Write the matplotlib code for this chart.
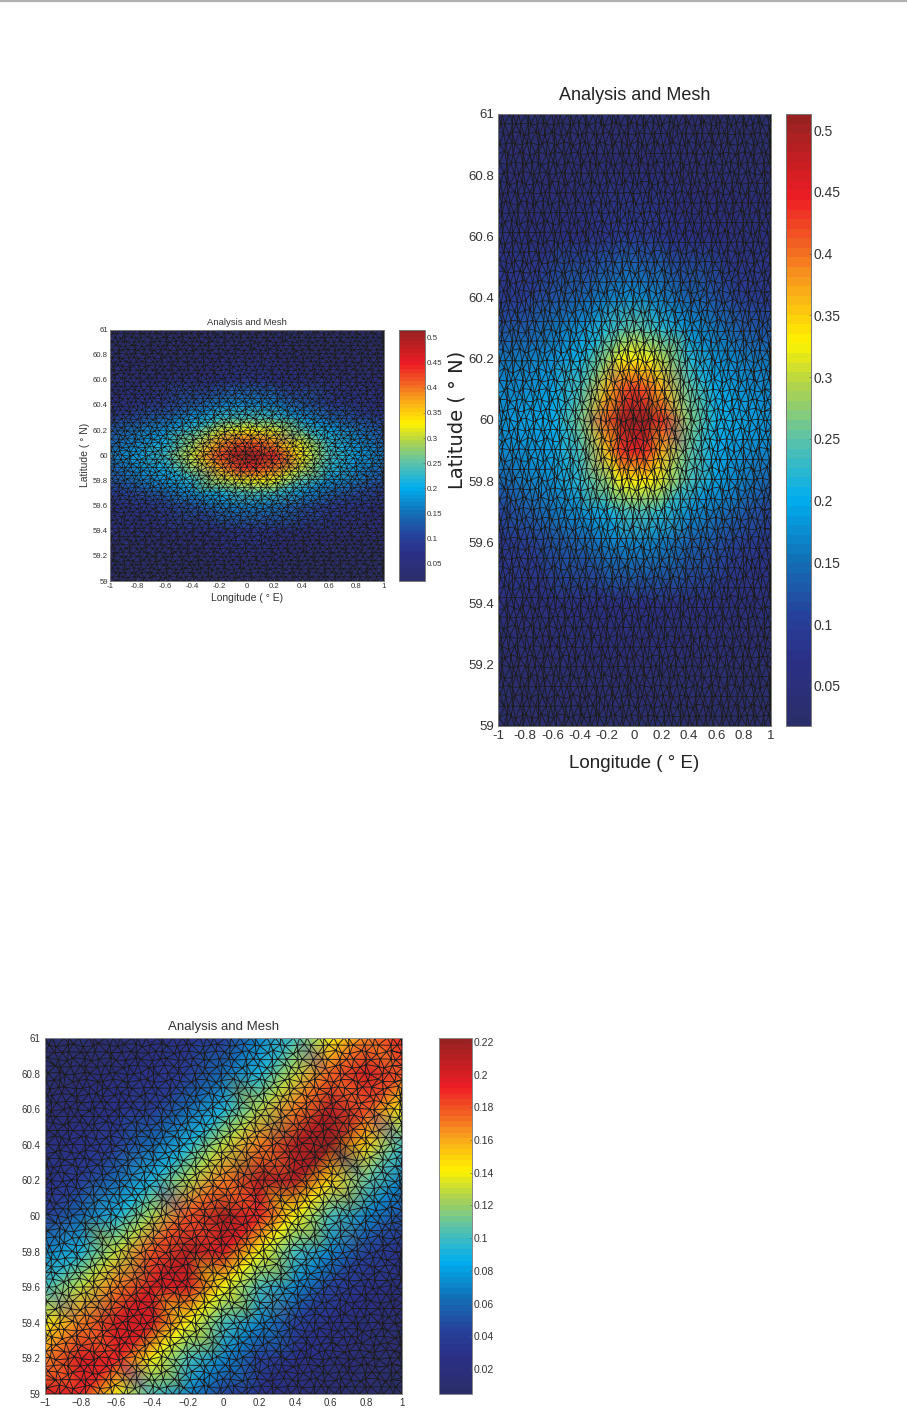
import numpy as np
import matplotlib
matplotlib.use("Agg")
import matplotlib.pyplot as plt
import matplotlib.tri as mtri
from matplotlib.colors import LinearSegmentedColormap, ListedColormap, Normalize
from matplotlib.cm import ScalarMappable
from matplotlib.lines import Line2D

W, H = 907, 1422
plt.rcParams['font.family'] = ['Liberation Sans', 'DejaVu Sans']

# ---- data ----
title = "Analysis and Mesh"
lon_ticks = [-1, -0.8, -0.6, -0.4, -0.2, 0, 0.2, 0.4, 0.6, 0.8, 1]
lat_ticks = [59, 59.2, 59.4, 59.6, 59.8, 60, 60.2, 60.4, 60.6, 60.8, 61]
lon_labels_hyphen = ['-1', '-0.8', '-0.6', '-0.4', '-0.2', '0', '0.2', '0.4', '0.6', '0.8', '1']
lon_labels_minus = ['\u22121', '\u22120.8', '\u22120.6', '\u22120.4', '\u22120.2', '0', '0.2', '0.4', '0.6', '0.8', '1']
lat_labels = ['59', '59.2', '59.4', '59.6', '59.8', '60', '60.2', '60.4', '60.6', '60.8', '61']

cbar_ticks_ab = [0.05, 0.1, 0.15, 0.2, 0.25, 0.3, 0.35, 0.4, 0.45, 0.5]
cbar_labels_ab = ['0.05', '0.1', '0.15', '0.2', '0.25', '0.3', '0.35', '0.4', '0.45', '0.5']
cbar_ticks_c = [0.02, 0.04, 0.06, 0.08, 0.1, 0.12, 0.14, 0.16, 0.18, 0.2, 0.22]
cbar_labels_c = ['0.02', '0.04', '0.06', '0.08', '0.1', '0.12', '0.14', '0.16', '0.18', '0.2', '0.22']

lon_ab = [-1, -.8, -.6, -.4, -.2, -.1, 0, .1, .2, .4, .6, .8, 1]
lat_ab = [61, 60.8, 60.6, 60.4, 60.3, 60.2, 60.1, 60, 59.9, 59.8, 59.7, 59.6, 59.4, 59.2, 59]

field_a = [
    [.02, .02, .02, .02, .02, .02, .02, .02, .02, .02, .02, .02, .02],
    [.03, .03, .03, .03, .04, .04, .04, .04, .04, .03, .03, .03, .03],
    [.05, .05, .05, .06, .07, .08, .08, .08, .07, .06, .05, .05, .05],
    [.07, .08, .10, .13, .16, .17, .17, .17, .16, .13, .10, .08, .07],
    [.09, .11, .14, .18, .22, .23, .24, .24, .23, .18, .14, .11, .09],
    [.12, .15, .18, .23, .30, .32, .33, .32, .31, .25, .19, .15, .12],
    [.14, .17, .21, .28, .38, .41, .42, .41, .39, .31, .22, .17, .14],
    [.15, .19, .23, .31, .43, .49, .51, .49, .46, .33, .24, .19, .15],
    [.14, .17, .21, .28, .38, .42, .44, .43, .40, .30, .22, .17, .14],
    [.12, .15, .18, .22, .29, .31, .32, .33, .32, .25, .18, .15, .12],
    [.09, .11, .14, .18, .21, .23, .24, .24, .23, .18, .14, .11, .09],
    [.07, .08, .10, .12, .15, .16, .16, .16, .15, .12, .10, .08, .07],
    [.05, .05, .05, .06, .07, .08, .08, .08, .07, .06, .05, .05, .05],
    [.03, .03, .03, .03, .04, .04, .04, .04, .04, .03, .03, .03, .03],
    [.02, .02, .02, .02, .02, .02, .02, .02, .02, .02, .02, .02, .02],
]
field_b = [
    [.025, .025, .025, .03, .03, .03, .03, .03, .03, .03, .025, .025, .025],
    [.035, .035, .04, .04, .045, .045, .045, .045, .045, .04, .04, .035, .035],
    [.05, .05, .06, .07, .08, .09, .09, .09, .08, .07, .06, .05, .05],
    [.09, .10, .12, .14, .16, .17, .18, .17, .16, .14, .12, .10, .09],
    [.12, .13, .15, .18, .22, .24, .25, .24, .22, .18, .15, .13, .12],
    [.15, .16, .18, .21, .28, .32, .33, .32, .29, .22, .18, .16, .15],
    [.17, .18, .19, .24, .36, .41, .43, .41, .37, .25, .20, .18, .17],
    [.18, .19, .20, .26, .41, .49, .51, .50, .43, .27, .21, .19, .18],
    [.17, .18, .19, .24, .36, .43, .45, .43, .37, .25, .20, .18, .17],
    [.14, .16, .18, .22, .28, .32, .33, .33, .31, .24, .19, .16, .14],
    [.11, .13, .15, .18, .21, .23, .24, .24, .22, .18, .15, .13, .11],
    [.08, .10, .12, .14, .16, .17, .17, .17, .16, .14, .12, .10, .08],
    [.05, .05, .06, .06, .07, .07, .07, .07, .07, .06, .06, .05, .05],
    [.03, .03, .035, .035, .04, .04, .04, .04, .04, .035, .035, .03, .03],
    [.025, .025, .025, .025, .03, .03, .03, .03, .03, .025, .025, .025, .025],
]

lon_c = [-1, -.8, -.6, -.4, -.2, 0, .2, .4, .6, .8, 1]
lat_c = [61, 60.8, 60.6, 60.4, 60.2, 60, 59.8, 59.6, 59.4, 59.2, 59]
field_c = [
    [.008, .01, .012, .02, .03, .04, .07, .10, .14, .17, .19],
    [.01, .012, .02, .03, .04, .06, .09, .13, .175, .20, .18],
    [.012, .02, .03, .04, .06, .09, .125, .17, .21, .18, .14],
    [.02, .03, .04, .06, .09, .13, .17, .21, .22, .15, .10],
    [.03, .04, .06, .09, .125, .17, .21, .21, .15, .11, .07],
    [.04, .06, .09, .125, .18, .215, .19, .14, .10, .07, .05],
    [.07, .09, .13, .18, .21, .20, .14, .10, .07, .045, .03],
    [.10, .13, .17, .20, .20, .14, .10, .07, .045, .03, .02],
    [.14, .17, .20, .20, .14, .10, .07, .045, .03, .02, .012],
    [.17, .20, .19, .14, .10, .07, .045, .03, .02, .012, .01],
    [.20, .19, .14, .10, .07, .045, .03, .02, .012, .01, .008],
]

# ---- colour scale ----
stops = [(0.00, '#2b2e6b'), (0.10, '#2b2f86'), (0.17, '#27409a'), (0.27, '#1272b8'),
         (0.37, '#00aeef'), (0.47, '#5fc3a6'), (0.56, '#b2d44a'), (0.63, '#fff200'),
         (0.72, '#f9a61a'), (0.79, '#f26522'), (0.87, '#ed1c24'), (1.00, '#982222')]
base = LinearSegmentedColormap.from_list('mesh_jet', stops)
cmap = ListedColormap(base(np.linspace(0, 1, 64)))


def px_axes(x0, x1, y0, y1):
    return fig.add_axes([x0 / W, 1 - y1 / H, (x1 - x0) / W, (y1 - y0) / H])


def lattice(ncol, nrow):
    """Triangular mesh over the domain, with gentle irregularity."""
    xs, ys = [], []
    dx, dy = 2 / ncol, 2 / nrow
    for j in range(nrow + 1):
        for i in range(ncol + 2):
            x = -1 + (i - 0.5 * (j % 2)) * dx
            y = 59 + j * dy
            edge = (j == 0) or (j == nrow)
            if not edge:
                y += 0.28 * dy * np.sin(3.1 * i + 1.7 * j) * np.cos(1.3 * i - 2.3 * j)
            x += 0.28 * dx * np.sin(2.3 * i - 3.7 * j)
            xs.append(min(max(x, -1), 1))
            ys.append(y)
    pts = np.unique(np.round(np.c_[xs, ys], 5), axis=0)
    return mtri.Triangulation(pts[:, 0], pts[:, 1])


def panel(box, cbox, lon, lat, field, vmin, vmax, mesh, lw, ticks_x, cticks, clabels,
          fs, cfs, family, spine, pad=1.5):
    ax = px_axes(*box)
    lo, la = np.meshgrid(lon, lat)
    tri = mtri.Triangulation(lo.ravel(), la.ravel())
    norm = Normalize(vmin, vmax)
    ax.tripcolor(tri, np.array(field).ravel(), cmap=cmap, norm=norm, shading='gouraud')
    ax.triplot(mesh, color='#1c1c1c', lw=lw)
    ax.set_xlim(-1, 1)
    ax.set_ylim(59, 61)
    ax.set_xticks(lon_ticks)
    ax.set_xticklabels(ticks_x, fontsize=fs, color='#333333', family=family)
    ax.set_yticks(lat_ticks)
    ax.set_yticklabels(lat_labels, fontsize=fs, color='#333333', family=family)
    ax.tick_params(direction='in', length=1.5, width=0.4, color='#555555', pad=pad)
    for s in ax.spines.values():
        s.set_color(spine)
        s.set_linewidth(0.7)
    cax = px_axes(*cbox)
    cb = fig.colorbar(ScalarMappable(norm, cmap), cax=cax)
    cb.set_ticks(cticks)
    cb.set_ticklabels(clabels, fontsize=cfs, color='#333333', family=family)
    cax.tick_params(direction='in', length=1.5, width=0.4, color='#555555', pad=1.5)
    cb.outline.set_edgecolor(spine)
    cb.outline.set_linewidth(0.7)
    return ax


fig = plt.figure(figsize=(W / 100, H / 100), dpi=100, facecolor='white')
fig.add_artist(Line2D([0, 1], [1 - 1 / H, 1 - 1 / H], color='#b0b0b0', lw=1.6))

mesh_ab = lattice(52, 62)
mesh_c = lattice(42, 50)
sans = ['Liberation Sans', 'DejaVu Sans']
narrow = ['Liberation Sans Narrow', 'Liberation Sans', 'DejaVu Sans']

# left panel
ax_a = panel((110, 384, 329.5, 581), (399, 425, 329.5, 581), lon_ab, lat_ab, field_a,
             0.016, 0.516, mesh_ab, 0.5, lon_labels_hyphen, cbar_ticks_ab, cbar_labels_ab,
             5.6, 5.8, sans, '#777777')
ax_a.set_title(title, fontsize=6.8, color='#333333', pad=3.5)
ax_a.set_xlabel('Longitude ( \u00b0 E)', fontsize=7.5, color='#333333', labelpad=2)
ax_a.set_ylabel('Latitude ( \u00b0 N)', fontsize=7.5, color='#333333', labelpad=2)

# right panel
ax_b = panel((498, 771, 114, 726), (786, 811, 114, 726), lon_ab, lat_ab, field_b,
             0.0176, 0.513, mesh_ab, 0.6, lon_labels_hyphen, cbar_ticks_ab, cbar_labels_ab,
             9.5, 10, narrow, '#777777', pad=3)
ax_b.set_title(title, fontsize=13, color='#222222', pad=10, family=narrow)
ax_b.set_xlabel('Longitude ( \u00b0 E)', fontsize=13.5, color='#222222', labelpad=9, family=narrow)
ax_b.set_ylabel('Latitude ( \u00b0 N)', fontsize=14, color='#222222', labelpad=1,
                family=['DejaVu Sans'])

# bottom panel
ax_c = panel((45, 402, 1038, 1394), (439, 472, 1038, 1394), lon_c, lat_c, field_c,
             0.0047, 0.2224, mesh_c, 0.65, lon_labels_minus, cbar_ticks_c, cbar_labels_c,
             7, 7.5, sans, '#888888', pad=3)
ax_c.set_title(title, fontsize=9.5, color='#333333', pad=6)

fig.savefig('out.png', dpi=100)
